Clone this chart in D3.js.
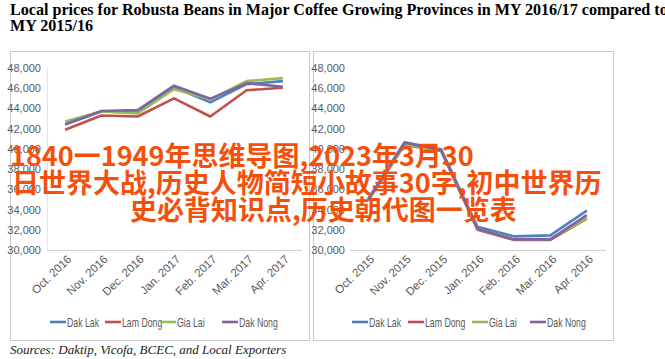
<!DOCTYPE html>
<html>
<head>
<meta charset="utf-8">
<script src="https://cdn.jsdelivr.net/npm/d3@7"></script>
<style>
  body { margin: 0; background: #fff; }
  svg { display: block; }
</style>
</head>
<body>
<div class="Chart"></div>
<script>
// months for each panel
let months1617 = ["Oct. 2016", "Nov. 2016", "Dec. 2016", "Jan. 2017", "Feb. 2017", "Mar. 2017", "Apr. 2017"];
let months1516 = ["Oct. 2015", "Nov. 2015", "Dec. 2015", "Jan. 2016", "Feb. 2016", "Mar. 2016", "Apr. 2016"];

let provinces = ["Dak Lak", "Lam Dong", "Gia Lai", "Dak Nong"];
let provinceColors = ["#4f81bd", "#c0504d", "#9bbb59", "#8064a2"];

// MY 2016/17 (VND/kg)
let dakLak1617   = [42400, 43700, 43600, 46100, 44600, 46400, 46700];
let lamDong1617  = [41900, 43300, 43200, 45000, 43200, 45800, 46050];
let giaLai1617   = [42700, 43700, 43500, 45900, 44900, 46700, 47000];
let dakNong1617  = [42450, 43750, 43850, 46250, 44950, 46500, 46150];

// MY 2015/16 (VND/kg)
let dakLak1516   = [35050, 40650, 39950, 32300, 31350, 31450, 33900];
let lamDong1516  = [34900, 40400, 39800, 32000, 31000, 31000, 33100];
let giaLai1516   = [34950, 40450, 39850, 32100, 31050, 31100, 33150];
let dakNong1516  = [35000, 40600, 39900, 32100, 31050, 31050, 33450];

let yTicks = [30000, 32000, 34000, 36000, 38000, 40000, 42000, 44000, 46000, 48000];

let overlayLines = ["1840一1949年思维导图,2023年3月30",
                    "日世界大战,历史人物简短小故事30字,初中世界历",
                    "史必背知识点,历史朝代图一览表"];

let width = 665, height = 359;
let axisFont = "'Liberation Sans Narrow', 'Liberation Sans', sans-serif";

let svg = d3.select(".Chart")
            .append("svg")
            .attr("width", width)
            .attr("height", height);

// title (runs past the right edge, as in the original)
svg.append("text")
   .attr("x", 10).attr("y", 15)
   .style("font-family", "'Liberation Serif', serif")
   .style("font-weight", "bold")
   .style("font-size", "16.1px")
   .style("fill", "#000")
   .text("Local prices for Robusta Beans in Major Coffee Growing Provinces in MY 2016/17 compared to");
svg.append("text")
   .attr("x", 10).attr("y", 31)
   .style("font-family", "'Liberation Serif', serif")
   .style("font-weight", "bold")
   .style("font-size", "16.1px")
   .style("fill", "#000")
   .text("MY 2015/16");

function drawPanel(box, plot, months, series, showYLine)
{
    let g = svg.append("g");

    g.append("rect")
     .attr("x", box.x + 0.5).attr("y", box.y + 0.5)
     .attr("width", box.w).attr("height", box.h)
     .attr("fill", "#fff")
     .attr("stroke", "#c8c8c8")
     .attr("stroke-width", 1);

    let xScale = d3.scalePoint()
                   .domain(months)
                   .range([plot.left, plot.right])
                   .padding(0.5);

    let yScale = d3.scaleLinear()
                   .domain([30000, 48000])
                   .range([plot.bottom, plot.top]);

    // y labels
    let yAxis = d3.axisLeft(yScale)
                  .tickValues(yTicks)
                  .tickSize(0)
                  .tickPadding(0)
                  .tickFormat(d3.format(","));
    let ya = g.append("g")
              .attr("transform", "translate(" + plot.labelX + ",0)")
              .call(yAxis);
    ya.select(".domain").remove();
    ya.selectAll("text")
      .style("font-family", axisFont)
      .style("font-size", "11px")
      .style("fill", "#595959");

    if (showYLine) {
        g.append("line")
         .attr("x1", plot.left + 0.5).attr("x2", plot.left + 0.5)
         .attr("y1", plot.top).attr("y2", plot.bottom)
         .attr("stroke", "#e4e4e4");
    }

    // baseline / category axis
    let xAxis = d3.axisBottom(xScale).tickSize(0).tickFormat("");
    let xa = g.append("g")
              .attr("transform", "translate(0," + plot.bottom + ")")
              .call(xAxis);
    xa.select(".domain")
      .attr("stroke", "#d0d0d0")
      .attr("d", "M" + plot.left + ",0.5H" + (plot.right + 1));

    g.selectAll(".xlabel")
     .data(months)
     .enter()
     .append("text")
     .attr("class", "xlabel")
     .attr("transform", d => "translate(" + (xScale(d) + 7) + "," + (plot.bottom + 10) + ") rotate(-44)")
     .style("text-anchor", "end")
     .style("font-family", axisFont)
     .style("font-size", "11.5px")
     .style("fill", "#595959")
     .text(d => d);

    let line = d3.line()
                 .x((d, i) => xScale(months[i]))
                 .y(d => yScale(d));

    g.selectAll(".series")
     .data(series)
     .enter()
     .append("path")
     .attr("class", "series")
     .attr("d", d => line(d))
     .attr("fill", "none")
     .attr("stroke", (d, i) => provinceColors[i])
     .attr("stroke-width", 2.6)
     .attr("stroke-linejoin", "round");

    // legend
    let legend = g.selectAll(".legend")
                  .data(provinces)
                  .enter()
                  .append("g")
                  .attr("class", "legend")
                  .attr("transform", (d, i) => "translate(" + plot.legendX[i] + "," + 322 + ")");
    legend.append("line")
          .attr("x1", 0).attr("x2", 16)
          .attr("y1", 0).attr("y2", 0)
          .attr("stroke", (d, i) => provinceColors[i])
          .attr("stroke-width", 2.6);
    legend.append("text")
          .attr("transform", "translate(17,4.5) scale(0.7,1)")
          .style("font-family", axisFont)
          .style("font-size", "12.5px")
          .style("fill", "#595959")
          .text(d => d);
}

drawPanel({x: 10, y: 51, w: 299, h: 289},
          {left: 47, right: 301, top: 68, bottom: 250, labelX: 41, legendX: [50, 105, 160, 222]},
          months1617,
          [dakLak1617, lamDong1617, giaLai1617, dakNong1617],
          true);

drawPanel({x: 313, y: 51, w: 300, h: 289},
          {left: 350, right: 605, top: 68, bottom: 250, labelX: 345, legendX: [352, 408, 472, 530]},
          months1516,
          [dakLak1516, lamDong1516, giaLai1516, dakNong1516],
          false);

// sources
svg.append("text")
   .attr("x", 10).attr("y", 354)
   .style("font-family", "'Liberation Serif', serif")
   .style("font-style", "italic")
   .style("font-size", "13px")
   .style("fill", "#222")
   .text("Sources: Daktip, Vicofa, BCEC, and Local Exporters");

// overlay caption on top of the picture
let overlayPos = [{x: 10, y: 166}, {x: 12, y: 193}, {x: 130, y: 220}];
svg.selectAll(".overlay")
   .data(overlayLines)
   .enter()
   .append("text")
   .attr("class", "overlay")
   .attr("x", (d, i) => overlayPos[i].x)
   .attr("y", (d, i) => overlayPos[i].y)
   .style("font-family", "'Noto Sans CJK SC', sans-serif")
   .style("font-weight", "bold")
   .style("font-size", "27px")
   .style("fill", "#f4500c")
   .text(d => d);
</script>
</body>
</html>
